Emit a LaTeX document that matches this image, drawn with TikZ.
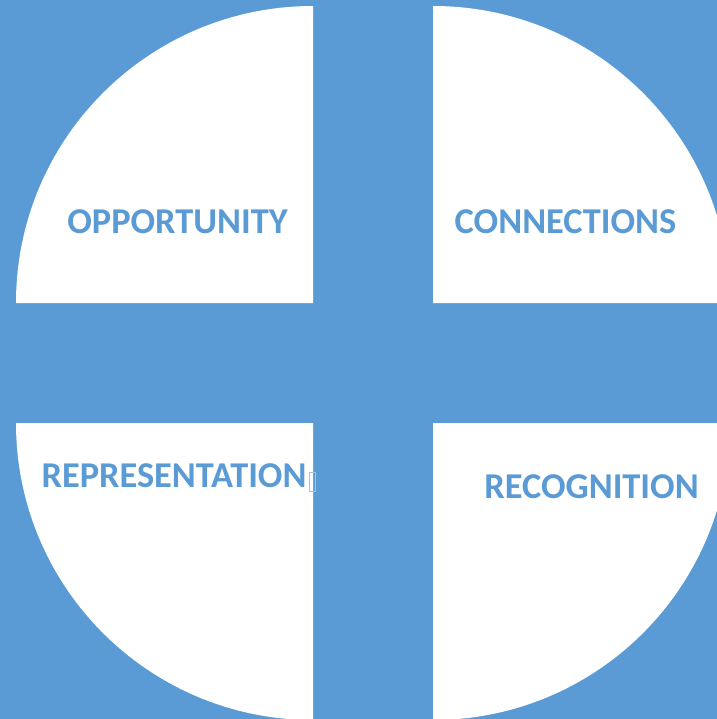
\documentclass[tikz,border=0pt]{standalone}
\usepackage{fontspec}
\setmainfont{Carlito}
\definecolor{quadblue}{HTML}{5B9BD5}

\begin{document}
\begin{tikzpicture}[x=1bp,y=-1bp,
    label/.style={anchor=base,inner sep=0pt,text=quadblue,font=\fontsize{36.5}{40}\selectfont\bfseries}]
    \useasboundingbox (0,0) rectangle (717,719);
    \clip (0,0) rectangle (717,719);
    \fill[quadblue] (0,0) rectangle (717,719);
    % inner corners of the four quarter discs
    \coordinate (TL) at (313,303);
    \coordinate (TR) at (433,303);
    \coordinate (BL) at (313,423);
    \coordinate (BR) at (433,423);
    \fill[white] (TL) -- ++(-297,0) arc[start angle=180,end angle=270,radius=297] -- cycle;
    \fill[white] (TR) -- ++(0,-297) arc[start angle=270,end angle=360,radius=297] -- cycle;
    \fill[white] (BL) -- ++(-297,0) arc[start angle=180,end angle=90,radius=297] -- cycle;
    \fill[white] (BR) -- ++(297,0) arc[start angle=0,end angle=90,radius=297] -- cycle;
    \node[label] (opp) at (177.5,233) {OPPORTUNITY};
    \node[label] (con) at (565.5,233) {CONNECTIONS};
    \node[label] (rep) at (174,487) {REPRESENTATION};
    \node[label] (rec) at (591.5,498) {RECOGNITION};
    % stray glyph box after the last label
    \draw[quadblue!60,line width=0.8bp] (309.5,472.5) rectangle (315.5,491.5);
\end{tikzpicture}
\end{document}
